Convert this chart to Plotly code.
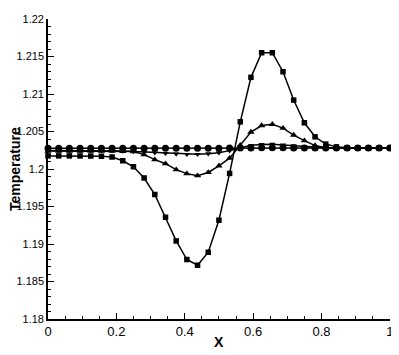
import plotly.graph_objects as go

x_pos = [
    0.0, 0.03125, 0.0625, 0.09375, 0.125, 0.15625, 0.1875, 0.21875,
    0.25, 0.28125, 0.3125, 0.34375, 0.375, 0.40625, 0.4375, 0.46875,
    0.5, 0.53125, 0.5625, 0.59375, 0.625, 0.65625, 0.6875, 0.71875,
    0.75, 0.78125, 0.8125, 0.84375, 0.875, 0.90625, 0.9375, 0.96875, 1.0,
]

temp_square = [
    1.20175, 1.20175, 1.20175, 1.20174, 1.20173, 1.20170, 1.20160, 1.20110,
    1.20030, 1.19880, 1.19660, 1.19357, 1.19041, 1.18793, 1.18717, 1.18890,
    1.19317, 1.19941, 1.20629, 1.21222, 1.21550, 1.21550, 1.21297, 1.20919,
    1.20616, 1.20429, 1.20332, 1.20295, 1.20282, 1.20279, 1.20278, 1.20278, 1.20278,
]

temp_tri_up = [
    1.20240, 1.20240, 1.20240, 1.20240, 1.20240, 1.20240, 1.20238, 1.20236,
    1.20232, 1.20192, 1.20125, 1.20071, 1.19991, 1.19938, 1.19911, 1.19954,
    1.20042, 1.20145, 1.20318, 1.20492, 1.20579, 1.20596, 1.20545, 1.20452,
    1.20378, 1.20312, 1.20285, 1.20280, 1.20279, 1.20278, 1.20278, 1.20278, 1.20278,
]

temp_tri_down = [
    1.20248, 1.20248, 1.20248, 1.20248, 1.20248, 1.20248, 1.20246, 1.20241,
    1.20234, 1.20228, 1.20218, 1.20209, 1.20201, 1.20196, 1.20196, 1.20204,
    1.20218, 1.20245, 1.20280, 1.20316, 1.20328, 1.20330, 1.20321, 1.20310,
    1.20301, 1.20292, 1.20285, 1.20282, 1.20281, 1.20281, 1.20281, 1.20281, 1.20281,
]

temp_circle = [
    1.20278, 1.20278, 1.20278, 1.20278, 1.20278, 1.20278, 1.20278, 1.20278,
    1.20278, 1.20278, 1.20278, 1.20278, 1.20278, 1.20278, 1.20278, 1.20278,
    1.20278, 1.20279, 1.20280, 1.20281, 1.20282, 1.20282, 1.20282, 1.20281,
    1.20281, 1.20280, 1.20280, 1.20280, 1.20280, 1.20280, 1.20280, 1.20280, 1.20280,
]

x_ticks = [0, 0.2, 0.4, 0.6, 0.8, 1]
x_labels = ['0', '0.2', '0.4', '0.6', '0.8', '1']
y_ticks = [1.18, 1.185, 1.19, 1.195, 1.2, 1.205, 1.21, 1.215, 1.22]
y_labels = ['1.18', '1.185', '1.19', '1.195', '1.2', '1.205', '1.21', '1.215', '1.22']

fig = go.Figure()

series = [
    (temp_square, 'square', 5.5),
    (temp_tri_up, 'triangle-up', 6.5),
    (temp_tri_down, 'triangle-down', 5.5),
    (temp_circle, 'circle', 7),
]

for values, symbol, size in series:
    fig.add_trace(
        go.Scatter(
            x=x_pos,
            y=values,
            mode='lines+markers',
            line=dict(color='black', width=1.5),
            marker=dict(symbol=symbol, size=size, color='black'),
            cliponaxis=False,
            showlegend=False,
        ),
    )

# page body adds an 8px offset, so the figure is sized to fit the window
fig.update_layout(
    width=391,
    height=347,
    margin=dict(l=40, r=9, t=11, b=36),
    paper_bgcolor='white',
    plot_bgcolor='white',
    font=dict(family='Liberation Sans, Arial', color='black'),
    annotations=[
        dict(
            x=0.5,
            y=0,
            xref='paper',
            yref='paper',
            yanchor='middle',
            yshift=-22.5,
            text='<b>X</b>',
            showarrow=False,
            font=dict(size=14),
        ),
        dict(
            x=0,
            y=0.5,
            xref='paper',
            yref='paper',
            xanchor='center',
            xshift=-33,
            textangle=-90,
            text='<b>Temperature</b>',
            showarrow=False,
            font=dict(size=14),
        ),
    ],
    xaxis=dict(
        range=[0, 1.0005],
        automargin=False,
        tickmode='array',
        tickvals=x_ticks,
        ticktext=x_labels,
        ticks='inside',
        ticklen=6,
        tickwidth=1.3,
        tickcolor='black',
        tickfont=dict(size=13),
        minor=dict(ticks='inside', ticklen=3, dtick=0.05, tick0=0, tickcolor='black', tickwidth=1),
        showline=True,
        linecolor='black',
        linewidth=1.6,
        showgrid=False,
        zeroline=False,
    ),
    yaxis=dict(
        range=[1.18, 1.22],
        automargin=False,
        tickmode='array',
        tickvals=y_ticks,
        ticktext=y_labels,
        ticks='inside',
        ticklen=6,
        tickwidth=1.3,
        tickcolor='black',
        tickfont=dict(size=11),
        minor=dict(ticks='inside', ticklen=3, dtick=0.001, tick0=1.18, tickcolor='black', tickwidth=1),
        showline=True,
        linecolor='black',
        linewidth=1.6,
        showgrid=False,
        zeroline=False,
    ),
)

fig.write_html('out.html')
